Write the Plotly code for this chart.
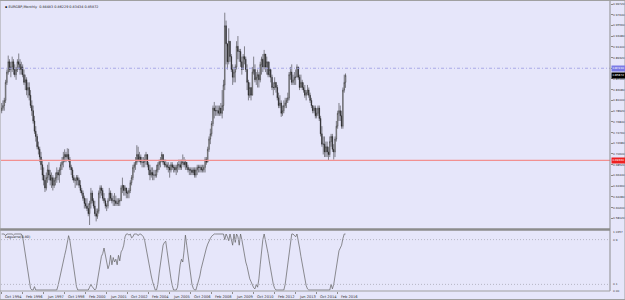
import plotly.graph_objects as go

# ---------------- data (EURGBP monthly, Oct 1994 .. Aug 2016) ----------------
x_tick_labels = ["Oct 1994", "Feb 1996", "Jun 1997", "Oct 1998", "Feb 2000", "Jun 2001",
                 "Oct 2002", "Feb 2004", "Jun 2005", "Oct 2006", "Feb 2008", "Jun 2009",
                 "Oct 2010", "Feb 2012", "Jun 2013", "Oct 2014", "Feb 2016"]
x_tick_index = [0, 16, 32, 48, 64, 80, 96, 112, 128, 144, 160, 176, 192, 208, 224, 240, 256]

close_1994 = [0.795, 0.80, 0.81]
close_1995 = [0.845, 0.865, 0.885, 0.87, 0.875, 0.885, 0.87, 0.86, 0.87, 0.885, 0.88, 0.87]
close_1996 = [0.875, 0.86, 0.845, 0.85, 0.83, 0.835, 0.82, 0.80, 0.79, 0.77, 0.75, 0.74]
close_1997 = [0.72, 0.715, 0.70, 0.685, 0.665, 0.655, 0.64, 0.66, 0.675, 0.665, 0.655, 0.66]
close_1998 = [0.645, 0.655, 0.66, 0.67, 0.665, 0.675, 0.685, 0.69, 0.70, 0.705, 0.70, 0.705]
close_1999 = [0.695, 0.68, 0.675, 0.66, 0.655, 0.655, 0.66, 0.655, 0.645, 0.635, 0.63, 0.62]
close_2000 = [0.61, 0.605, 0.60, 0.59, 0.61, 0.63, 0.615, 0.605, 0.59, 0.585, 0.595, 0.63]
close_2001 = [0.64, 0.635, 0.62, 0.615, 0.605, 0.605, 0.615, 0.63, 0.62, 0.615, 0.615, 0.615]
close_2002 = [0.61, 0.61, 0.615, 0.615, 0.64, 0.645, 0.635, 0.64, 0.63, 0.63, 0.635, 0.65]
close_2003 = [0.66, 0.68, 0.685, 0.69, 0.705, 0.695, 0.70, 0.69, 0.69, 0.69, 0.695, 0.705]
close_2004 = [0.685, 0.675, 0.665, 0.67, 0.665, 0.665, 0.665, 0.675, 0.685, 0.69, 0.695, 0.705]
close_2005 = [0.69, 0.685, 0.685, 0.68, 0.68, 0.675, 0.685, 0.68, 0.68, 0.675, 0.68, 0.685]
close_2006 = [0.685, 0.68, 0.69, 0.69, 0.685, 0.69, 0.68, 0.675, 0.675, 0.675, 0.67, 0.675]
close_2007 = [0.665, 0.675, 0.68, 0.68, 0.68, 0.675, 0.675, 0.68, 0.695, 0.69, 0.715, 0.735]
close_2008 = [0.745, 0.765, 0.795, 0.79, 0.79, 0.79, 0.785, 0.795, 0.785, 0.80, 0.84, 0.955]
close_2009 = [0.92, 0.885, 0.925, 0.895, 0.87, 0.855, 0.865, 0.875, 0.915, 0.905, 0.905, 0.885]
close_2010 = [0.87, 0.895, 0.89, 0.87, 0.845, 0.82, 0.835, 0.82, 0.865, 0.87, 0.85, 0.855]
close_2011 = [0.86, 0.85, 0.88, 0.89, 0.875, 0.90, 0.875, 0.885, 0.86, 0.87, 0.855, 0.835]
close_2012 = [0.835, 0.845, 0.835, 0.815, 0.80, 0.805, 0.785, 0.79, 0.80, 0.805, 0.81, 0.815]
close_2013 = [0.86, 0.865, 0.845, 0.85, 0.855, 0.855, 0.875, 0.855, 0.835, 0.845, 0.835, 0.83]
close_2014 = [0.82, 0.825, 0.83, 0.82, 0.81, 0.80, 0.79, 0.795, 0.78, 0.785, 0.795, 0.775]
close_2015 = [0.745, 0.725, 0.725, 0.71, 0.72, 0.71, 0.705, 0.73, 0.74, 0.715, 0.71, 0.735]
close_2016 = [0.76, 0.785, 0.79, 0.78, 0.76, 0.83, 0.845, 0.85872]

high_1994 = [0.805, 0.81, 0.815]
high_1995 = [0.85, 0.87, 0.897, 0.89, 0.885, 0.895, 0.89, 0.88, 0.875, 0.89, 0.901, 0.89]
high_1996 = [0.885, 0.88, 0.87, 0.86, 0.855, 0.845, 0.845, 0.83, 0.81, 0.80, 0.78, 0.76]
high_1997 = [0.745, 0.73, 0.72, 0.71, 0.695, 0.68, 0.665, 0.67, 0.685, 0.69, 0.675, 0.67]
high_1998 = [0.665, 0.66, 0.67, 0.68, 0.675, 0.68, 0.69, 0.70, 0.71, 0.715, 0.71, 0.717]
high_1999 = [0.716, 0.70, 0.685, 0.68, 0.665, 0.66, 0.665, 0.665, 0.66, 0.655, 0.64, 0.635]
high_2000 = [0.625, 0.62, 0.62, 0.61, 0.615, 0.64, 0.635, 0.62, 0.615, 0.60, 0.60, 0.635]
high_2001 = [0.645, 0.645, 0.64, 0.63, 0.62, 0.61, 0.62, 0.64, 0.635, 0.63, 0.625, 0.63]
high_2002 = [0.625, 0.62, 0.62, 0.62, 0.645, 0.66, 0.645, 0.645, 0.64, 0.635, 0.64, 0.655]
high_2003 = [0.665, 0.685, 0.69, 0.70, 0.723, 0.72, 0.71, 0.705, 0.70, 0.70, 0.705, 0.71]
high_2004 = [0.705, 0.69, 0.685, 0.68, 0.68, 0.675, 0.675, 0.685, 0.69, 0.695, 0.70, 0.71]
high_2005 = [0.705, 0.695, 0.695, 0.69, 0.69, 0.685, 0.69, 0.69, 0.685, 0.685, 0.685, 0.69]
high_2006 = [0.695, 0.695, 0.695, 0.705, 0.70, 0.695, 0.69, 0.685, 0.68, 0.68, 0.68, 0.68]
high_2007 = [0.68, 0.68, 0.685, 0.685, 0.685, 0.685, 0.685, 0.685, 0.70, 0.70, 0.72, 0.74]
high_2008 = [0.755, 0.77, 0.80, 0.807, 0.80, 0.80, 0.80, 0.80, 0.805, 0.83, 0.85, 0.9803]
high_2009 = [0.965, 0.915, 0.95, 0.925, 0.90, 0.88, 0.875, 0.88, 0.925, 0.935, 0.91, 0.91]
high_2010 = [0.895, 0.90, 0.915, 0.895, 0.88, 0.85, 0.845, 0.835, 0.875, 0.895, 0.88, 0.865]
high_2011 = [0.87, 0.865, 0.885, 0.895, 0.90, 0.908, 0.90, 0.895, 0.885, 0.885, 0.87, 0.86]
high_2012 = [0.845, 0.855, 0.845, 0.84, 0.825, 0.82, 0.81, 0.80, 0.81, 0.815, 0.815, 0.825]
high_2013 = [0.865, 0.875, 0.88, 0.86, 0.865, 0.87, 0.88, 0.875, 0.86, 0.86, 0.85, 0.845]
high_2014 = [0.84, 0.83, 0.84, 0.835, 0.825, 0.815, 0.80, 0.80, 0.80, 0.795, 0.80, 0.80]
high_2015 = [0.78, 0.76, 0.74, 0.74, 0.73, 0.73, 0.72, 0.74, 0.745, 0.745, 0.725, 0.74]
high_2016 = [0.77, 0.79, 0.805, 0.80, 0.79, 0.835, 0.86, 0.86229]

low_1994 = [0.785, 0.79, 0.79]
low_1995 = [0.805, 0.84, 0.86, 0.865, 0.855, 0.865, 0.86, 0.855, 0.85, 0.865, 0.87, 0.86]
low_1996 = [0.86, 0.855, 0.84, 0.83, 0.82, 0.815, 0.81, 0.795, 0.78, 0.765, 0.745, 0.73]
low_1997 = [0.715, 0.705, 0.69, 0.675, 0.655, 0.645, 0.632, 0.635, 0.65, 0.655, 0.645, 0.64]
low_1998 = [0.635, 0.64, 0.645, 0.65, 0.655, 0.65, 0.665, 0.675, 0.68, 0.69, 0.69, 0.695]
low_1999 = [0.69, 0.675, 0.665, 0.655, 0.65, 0.64, 0.645, 0.645, 0.64, 0.63, 0.625, 0.615]
low_2000 = [0.60, 0.60, 0.595, 0.585, 0.568, 0.60, 0.61, 0.60, 0.585, 0.575, 0.58, 0.59]
low_2001 = [0.62, 0.625, 0.615, 0.61, 0.60, 0.595, 0.60, 0.615, 0.615, 0.61, 0.605, 0.605]
low_2002 = [0.605, 0.605, 0.605, 0.605, 0.615, 0.63, 0.625, 0.625, 0.62, 0.62, 0.62, 0.63]
low_2003 = [0.645, 0.655, 0.67, 0.675, 0.685, 0.69, 0.69, 0.685, 0.68, 0.68, 0.68, 0.685]
low_2004 = [0.68, 0.665, 0.655, 0.66, 0.655, 0.655, 0.66, 0.66, 0.67, 0.675, 0.68, 0.69]
low_2005 = [0.685, 0.68, 0.68, 0.675, 0.67, 0.66, 0.67, 0.675, 0.67, 0.67, 0.665, 0.67]
low_2006 = [0.675, 0.675, 0.675, 0.685, 0.68, 0.675, 0.675, 0.67, 0.665, 0.665, 0.665, 0.665]
low_2007 = [0.66, 0.66, 0.665, 0.67, 0.67, 0.67, 0.67, 0.67, 0.67, 0.685, 0.69, 0.71]
low_2008 = [0.725, 0.74, 0.76, 0.775, 0.78, 0.78, 0.78, 0.78, 0.78, 0.775, 0.79, 0.83]
low_2009 = [0.88, 0.87, 0.88, 0.885, 0.865, 0.84, 0.845, 0.845, 0.87, 0.89, 0.885, 0.875]
low_2010 = [0.86, 0.87, 0.88, 0.865, 0.83, 0.81, 0.815, 0.81, 0.82, 0.86, 0.845, 0.84]
low_2011 = [0.835, 0.835, 0.845, 0.86, 0.865, 0.87, 0.865, 0.86, 0.855, 0.855, 0.845, 0.83]
low_2012 = [0.82, 0.83, 0.825, 0.81, 0.795, 0.795, 0.778, 0.78, 0.785, 0.795, 0.795, 0.805]
low_2013 = [0.81, 0.85, 0.84, 0.84, 0.84, 0.84, 0.855, 0.85, 0.83, 0.835, 0.83, 0.825]
low_2014 = [0.815, 0.81, 0.82, 0.815, 0.805, 0.795, 0.785, 0.785, 0.775, 0.775, 0.78, 0.77]
low_2015 = [0.74, 0.72, 0.705, 0.70, 0.70, 0.70, 0.6936, 0.70, 0.72, 0.71, 0.695, 0.70]
low_2016 = [0.73, 0.755, 0.77, 0.77, 0.755, 0.755, 0.825, 0.83434]

first_open = 0.79

# Laguerre indicator (0..1), read month by month
lag_a = [1, 1, 1, 0.97, 1, 1, 1, 1, 1, 0.98, 1, 1, 1, 1, 1, 1,
         0.95, 0.8, 0.6, 0.5, 0.3, 0.12, 0.03,
         0, 0, 0.06, 0, 0, 0, 0, 0, 0, 0, 0, 0, 0, 0, 0, 0, 0, 0, 0, 0,
         0.08, 0.2, 0.32, 0.42, 0.52, 0.62, 0.72, 0.84, 0.97, 0.88,
         0.72, 0.55, 0.35, 0.18, 0.06, 0,
         0, 0, 0, 0, 0, 0, 0, 0,
         0.05, 0.1, 0.06, 0.02, 0]
lag_b = [0.03, 0.15, 0.3, 0.45, 0.6, 0.65, 0.75, 0.6, 0.5, 0.38,
         0.45, 0.62, 0.45, 0.58, 0.5, 0.55, 0.45, 0.62, 0.52, 0.68,
         0.72, 0.8, 0.95,
         1, 1, 0.98, 1, 0.93, 0.95, 1, 1, 1, 0.97, 1, 1, 0.98, 0.95,
         0.88, 0.75, 0.6, 0.45, 0.35, 0.25, 0.15, 0.06, 0, 0,
         0.1, 0.3, 0.5, 0.7, 0.8, 0.85, 0.87,
         0.7, 0.5, 0.35, 0.2, 0.08, 0, 0, 0,
         0.05, 0.3, 0.45, 0.55, 0.5, 0.7, 0.98,
         0.8, 0.6, 0.45, 0.25, 0.1, 0.03, 0, 0]
lag_c = [0.08, 0.15, 0.25, 0.38, 0.48, 0.58, 0.66, 0.75, 0.82, 0.88, 0.92, 0.96, 0.99,
         1, 1, 1, 1, 1, 1, 1, 1,
         0.9, 1, 0.95, 0.88, 1, 0.9, 0.8, 1, 0.85, 1, 0.95, 0.8, 1, 0.9, 0.75,
         0.65, 0.5, 0.42, 0.3, 0.2, 0.15, 0.08, 0.04, 0.02,
         0.1, 0.05, 0.2, 0.45, 0.7, 0.9, 1, 0.9,
         0.8, 0.65, 0.5, 0.35, 0.2, 0.1, 0.03, 0,
         0, 0, 0, 0, 0, 0,
         0.1, 0.3, 0.5, 0.7, 0.88, 1, 1,
         0.97, 0.95, 1, 0.9,
         0.75, 0.6, 0.45, 0.3, 0.18, 0.08, 0.02, 0,
         0, 0, 0, 0, 0, 0, 0, 0, 0, 0, 0, 0, 0, 0, 0, 0,
         0.1, 0.02, 0.1,
         0.25, 0.4, 0.55, 0.7, 0.75, 0.8, 0.92, 1, 1]

price_ticks = [0.99720, 0.97640, 0.95560, 0.93480, 0.91400, 0.89320, 0.87240, 0.85160,
               0.83080, 0.81000, 0.78920, 0.76840, 0.74760, 0.72680, 0.70600, 0.68520,
               0.66440, 0.64360, 0.62280, 0.60200, 0.58120]
dotted_level = 0.87240
red_level = 0.69360
last_price = 0.85872
lag_levels = [0.9, 0.1]

title_text = "EURGBP,Monthly  0.84483 0.86229 0.83434 0.85872"
ind_text = "Laguerre(0.80)"

# ---------------- assemble ----------------
close = (close_1994 + close_1995 + close_1996 + close_1997 + close_1998 + close_1999 + close_2000 +
         close_2001 + close_2002 + close_2003 + close_2004 + close_2005 + close_2006 + close_2007 +
         close_2008 + close_2009 + close_2010 + close_2011 + close_2012 + close_2013 + close_2014 +
         close_2015 + close_2016)
high = (high_1994 + high_1995 + high_1996 + high_1997 + high_1998 + high_1999 + high_2000 +
        high_2001 + high_2002 + high_2003 + high_2004 + high_2005 + high_2006 + high_2007 +
        high_2008 + high_2009 + high_2010 + high_2011 + high_2012 + high_2013 + high_2014 +
        high_2015 + high_2016)
low = (low_1994 + low_1995 + low_1996 + low_1997 + low_1998 + low_1999 + low_2000 +
       low_2001 + low_2002 + low_2003 + low_2004 + low_2005 + low_2006 + low_2007 +
       low_2008 + low_2009 + low_2010 + low_2011 + low_2012 + low_2013 + low_2014 +
       low_2015 + low_2016)
opn = [first_open] + close[:-1]
lag = lag_a + lag_b + lag_c
n = len(close)
idx = list(range(n))

BG = "#E6E6FA"
GRAY = "#8c8c8c"
FONT = "DejaVu Sans"

W, H = 625, 300
ML, MR, MT, MB = 1, 15, 1, 9
PW, PH = W - ML - MR, H - MT - MB
main_dom = [(291 - 228) / PH, 1.0]
ind_dom = [0.0, (291 - 232) / PH]

px_per_bar = 1.3125
x_range = [-0.5, -0.5 + PW / px_per_bar]

fig = go.Figure()
fig.add_trace(go.Candlestick(
    x=idx, open=opn, high=high, low=low, close=close,
    increasing=dict(line=dict(color="#1a1a1a", width=0.5), fillcolor="#f4f4f4"),
    decreasing=dict(line=dict(color="#1a1a1a", width=0.5), fillcolor="#1a1a1a"),
    whiskerwidth=0, showlegend=False, xaxis="x", yaxis="y"))
fig.add_trace(go.Scatter(
    x=idx, y=lag, mode="lines", line=dict(color="#606060", width=0.7),
    showlegend=False, xaxis="x", yaxis="y2"))

shapes = []
# level lines
shapes.append(dict(type="line", xref="paper", x0=0, x1=1, yref="y", y0=dotted_level, y1=dotted_level,
                   line=dict(color="#a4a4e4", width=0.9, dash="3px,2px,1px,2px")))
shapes.append(dict(type="line", xref="paper", x0=0, x1=1, yref="y", y0=red_level, y1=red_level,
                   line=dict(color="#f29090", width=1.2)))
for lv in lag_levels:
    shapes.append(dict(type="line", xref="paper", x0=0, x1=1, yref="y2", y0=lv, y1=lv,
                       line=dict(color="#b0b0c0", width=0.9, dash="1px,2px")))
# frame lines (paper coords)
def py(ypix):
    return (291 - ypix) / PH
shapes.append(dict(type="line", xref="paper", yref="paper", x0=1, x1=1, y0=py(291), y1=py(1),
                   line=dict(color=GRAY, width=1)))
shapes.append(dict(type="line", xref="paper", yref="paper", x0=-1 / PW, x1=1, y0=py(229.5), y1=py(229.5),
                   line=dict(color=GRAY, width=2.5)))
shapes.append(dict(type="line", xref="paper", yref="paper", x0=-1 / PW, x1=1, y0=py(291), y1=py(291),
                   line=dict(color="#a0a0a0", width=1)))

annotations = []
LBL = dict(family=FONT, size=2.8, color="#333333")
for t in price_ticks:
    annotations.append(dict(xref="paper", x=1, xanchor="left", xshift=1, yref="y", y=t,
                            text=f"{t:.5f}", showarrow=False, font=LBL))
# highlighted price labels
for lvl, bg in [(dotted_level, "#7b7be6"), (last_price, "#000000"), (red_level, "#ee2020")]:
    annotations.append(dict(xref="paper", x=1, xanchor="left", xshift=0.5, yref="y", y=lvl,
                            text=f"{lvl:.5f}", showarrow=False, bgcolor=bg, borderpad=0.4,
                            font=dict(family=FONT, size=2.8, color="#ffffff")))
# indicator scale labels
for v, t in [(1.03, "1.0357"), (lag_levels[0], "0.9"), (lag_levels[1], "0.1"), (-0.01, "0.00")]:
    annotations.append(dict(xref="paper", x=1, xanchor="left", xshift=1, yref="y2", y=v,
                            text=t, showarrow=False, font=LBL))
# time labels
for i, t in zip(x_tick_index, x_tick_labels):
    annotations.append(dict(xref="x", x=i, xanchor="left", xshift=1, yref="paper", y=0,
                            yanchor="top", yshift=-1.5, text=t, showarrow=False,
                            font=dict(family=FONT, size=3.6, color="#333333")))
annotations.append(dict(xref="paper", x=0, xanchor="left", xshift=2, yref="paper", y=1, yanchor="top",
                        yshift=-2, text="▪ " + title_text, showarrow=False,
                        font=dict(family=FONT, size=3.4, color="#222222")))
annotations.append(dict(xref="paper", x=0, xanchor="left", xshift=2, yref="paper", y=ind_dom[1],
                        yanchor="top", yshift=-1, text=ind_text, showarrow=False,
                        font=dict(family=FONT, size=3.4, color="#222222")))

fig.update_layout(
    width=W, height=H, margin=dict(l=ML, r=MR, t=MT, b=MB),
    paper_bgcolor=BG, plot_bgcolor=BG,
    shapes=shapes, annotations=annotations,
    xaxis=dict(range=x_range, anchor="y2", showgrid=False, zeroline=False,
               rangeslider=dict(visible=False), tickvals=x_tick_index, ticks="outside",
               ticklen=2, tickcolor=GRAY, showticklabels=False, showline=False),
    yaxis=dict(domain=main_dom, range=[0.56219, 1.00302], showgrid=False, zeroline=False,
               side="right", tickvals=price_ticks, ticks="outside", ticklen=2, tickcolor=GRAY,
               showticklabels=False),
    yaxis2=dict(domain=ind_dom, range=[-0.0179, 1.0357], showgrid=False, zeroline=False,
                side="right", showticklabels=False, ticks=""),
)
# outer window border
fig.add_shape(type="rect", xref="paper", yref="paper", x0=-1 / PW, x1=(W - 1) / PW,
              y0=-(MB - 0.5) / PH, y1=1 + 0.5 / PH, line=dict(color="#a0a0a0", width=1),
              fillcolor="rgba(0,0,0,0)")

fig.write_html("out.html")
